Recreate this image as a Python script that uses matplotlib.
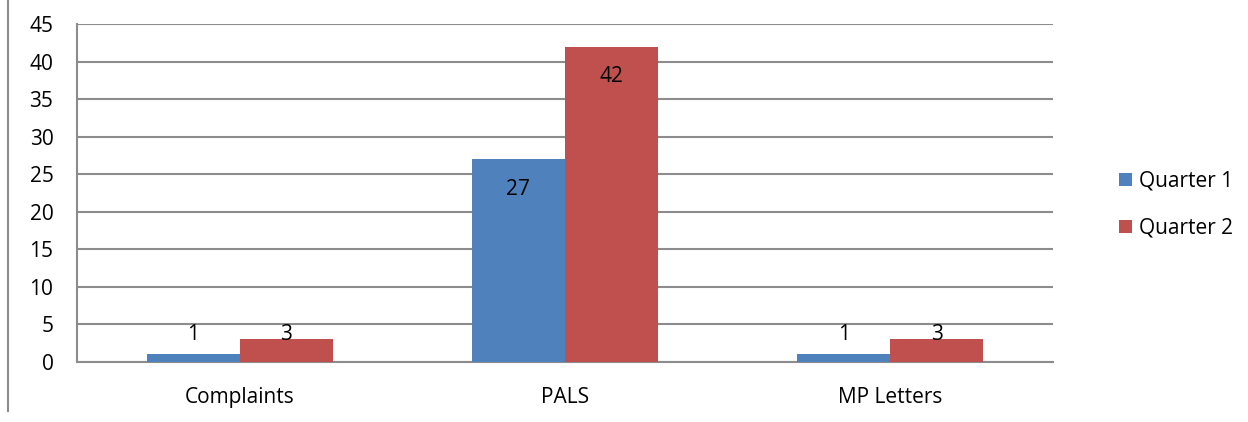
import matplotlib
matplotlib.use('Agg')
import matplotlib.pyplot as plt
import numpy as np
from matplotlib.lines import Line2D

plt.rcParams['font.family'] = ['Open Sans', 'DejaVu Sans']

categories = ['Complaints', 'PALS', 'MP Letters']
quarter1 = [1, 27, 1]
quarter2 = [3, 42, 3]
series_names = ['Quarter 1', 'Quarter 2']
yticks = [0, 5, 10, 15, 20, 25, 30, 35, 40, 45]

BLUE = '#4F81BD'
RED = '#C0504D'
GRID = '#8C8C8C'
FS = 15

fig = plt.figure(figsize=(12.48, 4.22), dpi=100)
ax = fig.add_axes([0.0617, 0.1422, 0.782, 0.801])

x = np.arange(len(categories))
w = 93 / 325
b1 = ax.bar(x - w / 2, quarter1, w, color=BLUE, label=series_names[0], zorder=3)
b2 = ax.bar(x + w / 2, quarter2, w, color=RED, label=series_names[1], zorder=3)

# data labels, inside end like excel, small ones pushed up
for bars, vals in ((b1, quarter1), (b2, quarter2)):
    for rect, v in zip(bars, vals):
        ax.text(rect.get_x() + rect.get_width() / 2, max(v - 4, 3.6), str(v),
                ha='center', va='center', fontsize=FS, color='black', zorder=4)

ax.set_xlim(-0.5, 2.5)
ax.set_ylim(0, 45)
ax.set_yticks(yticks)
ax.set_xticks(x)
ax.set_xticklabels(categories)
ax.yaxis.grid(True, color=GRID, linewidth=1.5, zorder=0)
ax.tick_params(axis='y', length=0, pad=17, labelsize=FS)
ax.tick_params(axis='x', length=0, pad=18, labelsize=FS)
for s in ('top', 'right'):
    ax.spines[s].set_visible(False)
for s in ('left', 'bottom'):
    ax.spines[s].set_color(GRID)
    ax.spines[s].set_linewidth(1.5)

ax.legend(loc='center left', bbox_to_anchor=(1.048, 0.465), frameon=False,
          fontsize=FS, handlelength=0.65, handleheight=0.65, handletextpad=0.35,
          labelspacing=1.25)

# thin frame line on the left edge
fig.add_artist(Line2D([8 / 1248, 8 / 1248], [0.025, 1.0], color='#8C8C8C',
                      linewidth=1.5, transform=fig.transFigure))

fig.savefig('out.png', dpi=100)
